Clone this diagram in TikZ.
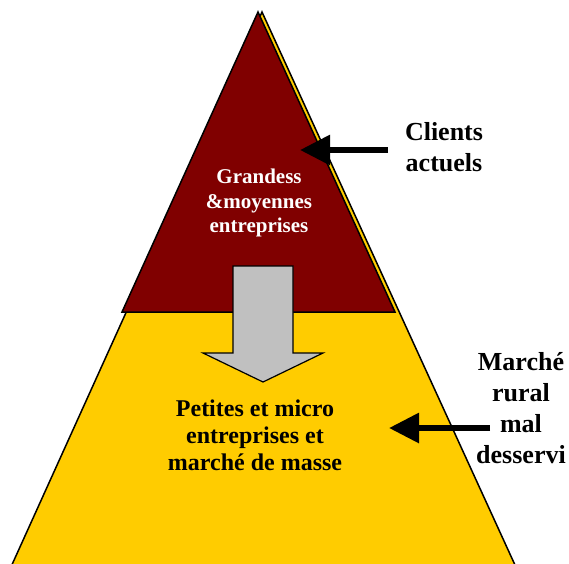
\documentclass[tikz,border=0pt]{standalone}
\usepackage{fontspec}
\setmainfont{Liberation Serif}
\usetikzlibrary{arrows.meta}
\definecolor{pyrred}{HTML}{800000}
\definecolor{pyrgold}{HTML}{FFCC00}
\definecolor{pyrgray}{HTML}{C0C0C0}
\tikzset{
  outline/.style={draw=black,line width=1.5pt,line join=miter},
  lbl/.style={inner sep=0pt,align=center,font=\bfseries},
  pointer/.style={line width=6pt,-{Triangle[length=30pt,width=29pt]}},
}
\begin{document}
\begin{tikzpicture}[x=1pt,y=-1pt]
\useasboundingbox (0,0) rectangle (569,563);
\begin{scope}
\clip (0,0) rectangle (569,563);
% big yellow triangle (extends below the frame)
\filldraw[outline,fill=pyrgold] (262,12) -- (531,600) -- (-4,600) -- cycle;
% red top triangle
\filldraw[outline,fill=pyrred] (258,12) -- (395,312) -- (122,312) -- cycle;
% gray down arrow
\filldraw[outline,fill=pyrgray,line width=1.2pt] (233,266) -- (293,266) -- (293,353) -- (323,353)
  -- (263,382) -- (203,353) -- (233,353) -- cycle;
\end{scope}
% labels
\node[lbl,text=white,font=\bfseries\fontsize{21}{24.5}\selectfont] (top) at (259,203)
  {Grandess\\\&moyennes\\entreprises};
\node[lbl,font=\bfseries\fontsize{24}{26.8}\selectfont] (bottom) at (255,435)
  {Petites et micro\\entreprises et\\marché de masse};
\node[lbl,font=\bfseries\fontsize{26}{31.5}\selectfont] (clients) at (444,147)
  {Clients\\actuels};
\node[lbl,font=\bfseries\fontsize{26}{31}\selectfont] (rural) at (521,408)
  {Marché\\rural\\mal\\desservi};
% pointers
\coordinate (c1s) at (388,150);
\coordinate (c1e) at (300,150);
\coordinate (c2s) at (490,428);
\coordinate (c2e) at (389,428);
\draw[pointer] (c1s) -- (c1e);
\draw[pointer] (c2s) -- (c2e);
\end{tikzpicture}
\end{document}
